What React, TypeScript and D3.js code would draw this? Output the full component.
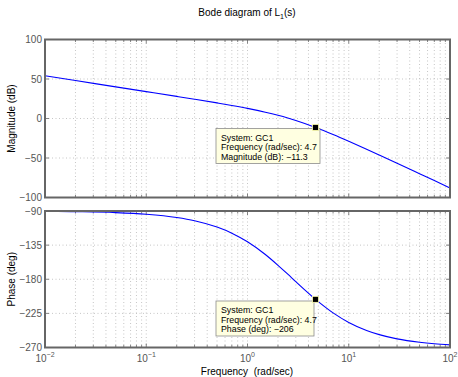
import React from "react";
import * as d3 from "d3";

const freqs = [0.01, 0.02, 0.05, 0.1, 0.2, 0.3, 0.5, 0.7, 1, 1.5, 2, 2.5, 3, 4.7, 7, 10, 15, 20, 30, 50, 70, 100];
const magDb = [54.05, 48.0, 40.07, 34.04, 27.98, 24.39, 19.74, 16.52, 12.82, 8.02, 4.05, 0.57, -2.55, -11.3, -20.16, -28.7, -38.83, -46.16, -56.61, -69.87, -78.61, -87.9];
const phaseDeg = [-90.4, -90.9, -92.1, -94.3, -98.6, -102.8, -111.2, -119.2, -130.6, -147.4, -161.6, -173.3, -183.2, -206.5, -224.3, -236.9, -247.5, -253.0, -258.6, -263.1, -265.1, -266.6];
const magTicks = [100, 50, 0, -50, -100];
const phaseTicks = [-90, -135, -180, -225, -270];
const decadeExps = [-2, -1, 0, 1, 2];
const tipFreq = 4.7;
const tipMag = -11.3;
const tipPhaseCurve = -206.5;
const magTipLines = ["System: GC1", "Frequency (rad/sec): 4.7", "Magnitude (dB): \u221211.3"];
const phaseTipLines = ["System: GC1", "Frequency (rad/sec): 4.7", "Phase (deg): \u2212206"];

const FONT = "Liberation Sans, Arial, Helvetica, sans-serif";
const X0 = 45, X1 = 450;
const axisColor = "#666";
const textColor = "#555";

const fmt = (v: number) => (v < 0 ? "\u2212" + Math.abs(v) : String(v));

function Panel({ y0, y1, domain, ticks, values, label, tip, tipY, tipLines, tipW, showX }: any) {
  const x = d3.scaleLog().domain([0.01, 100]).range([X0, X1]);
  const y = d3.scaleLinear().domain(domain).range([y1, y0]);
  const minors: number[] = [];
  for (let e = -2; e < 2; e++) for (let k = 1; k <= 9; k++) minors.push(k * Math.pow(10, e));
  minors.push(100);
  const line = d3
    .line<number>()
    .x((_, i) => x(freqs[i]))
    .y((d) => y(d))
    .curve(d3.curveMonotoneX);
  const mx = x(tip[0]);
  const my = y(tip[1]);
  const bx = 216;
  const by = tipY;
  return (
    <g>
      {minors.map((f, i) => (
        <line key={"vg" + i} x1={x(f)} x2={x(f)} y1={y0} y2={y1} stroke="#b8b8b8" strokeWidth={0.8} strokeDasharray="1,2.5" />
      ))}
      {ticks.map((t: number, i: number) => (
        <line key={"hg" + i} x1={X0} x2={X1} y1={y(t)} y2={y(t)} stroke="#b8b8b8" strokeWidth={0.8} strokeDasharray="1,2.5" />
      ))}
      {minors.map((f, i) => {
        const major = Math.abs(Math.log10(f) - Math.round(Math.log10(f))) < 1e-9;
        const L = major ? 4 : 2.5;
        return (
          <g key={"mt" + i}>
            <line x1={x(f)} x2={x(f)} y1={y0} y2={y0 + L} stroke={axisColor} strokeWidth={0.8} />
            <line x1={x(f)} x2={x(f)} y1={y1} y2={y1 - L} stroke={axisColor} strokeWidth={0.8} />
          </g>
        );
      })}
      {ticks.map((t: number, i: number) => (
        <g key={"yt" + i}>
          <line x1={X0} x2={X0 + 4} y1={y(t)} y2={y(t)} stroke={axisColor} strokeWidth={0.8} />
          <line x1={X1} x2={X1 - 4} y1={y(t)} y2={y(t)} stroke={axisColor} strokeWidth={0.8} />
          <text x={X0 - 3} y={y(t) + 3.5} textAnchor="end" fontSize={10} fill={textColor} fontFamily={FONT}>
            {fmt(t)}
          </text>
        </g>
      ))}
      <path d={line(values) || ""} fill="none" stroke="#0000ff" strokeWidth={1.1} />
      <rect x={X0} y={y0} width={X1 - X0} height={y1 - y0} fill="none" stroke={axisColor} strokeWidth={2} />
      <text
        transform={`translate(15,${(y0 + y1) / 2}) rotate(-90)`}
        textAnchor="middle"
        fontSize={10}
        fill="#000"
        fontFamily={FONT}
      >
        {label}
      </text>
      {showX &&
        decadeExps.map((e) => (
          <text key={"xl" + e} x={x(Math.pow(10, e))} y={y1 + 14} textAnchor="middle" fontSize={10} fill={textColor} fontFamily={FONT}>
            10
            <tspan dy={-5} fontSize={7}>
              {e < 0 ? "\u2212" + Math.abs(e) : String(e)}
            </tspan>
          </text>
        ))}
      <rect x={bx} y={by} width={tipW} height={35} fill="#ffffe1" stroke="#8c8c8c" strokeWidth={0.8} />
      {tipLines.map((s: string, i: number) => (
        <text key={"tl" + i} x={bx + 5} y={by + 12.3 + i * 9.4} fontSize={8.8} fill="#000" fontFamily={FONT}>
          {s}
        </text>
      ))}
      <rect x={mx - 3} y={my - 3} width={6} height={6} fill="#000" stroke="#ffffb0" strokeWidth={0.8} />
    </g>
  );
}

export default function App() {
  return (
    <svg width={458} height={377} style={{ position: "absolute", left: 0, top: 0, background: "#fff" }}>
      <rect width={458} height={377} fill="#fff" />
      <text x={247} y={16} textAnchor="middle" fontSize={10} fontFamily={FONT} fill="#000">
        Bode diagram of L
        <tspan dy={3} fontSize={7}>1</tspan>
        <tspan dy={-3}>(s)</tspan>
      </text>
      <Panel
        y0={39.5}
        y1={197.5}
        domain={[-100, 100]}
        ticks={magTicks}
        values={magDb}
        label="Magnitude (dB)"
        tip={[tipFreq, tipMag]}
        tipY={128.5}
        tipLines={magTipLines}
        tipW={104}
        showX={false}
      />
      <Panel
        y0={211}
        y1={347.5}
        domain={[-270, -90]}
        ticks={phaseTicks}
        values={phaseDeg}
        label="Phase (deg)"
        tip={[tipFreq, tipPhaseCurve]}
        tipY={301}
        tipLines={phaseTipLines}
        tipW={98}
        showX={true}
      />
      <text x={247} y={375} textAnchor="middle" fontSize={10} fontFamily={FONT} fill="#000" xmlSpace="preserve" style={{ whiteSpace: "pre" }}>
        {"Frequency  (rad/sec)"}
      </text>
    </svg>
  );
}
